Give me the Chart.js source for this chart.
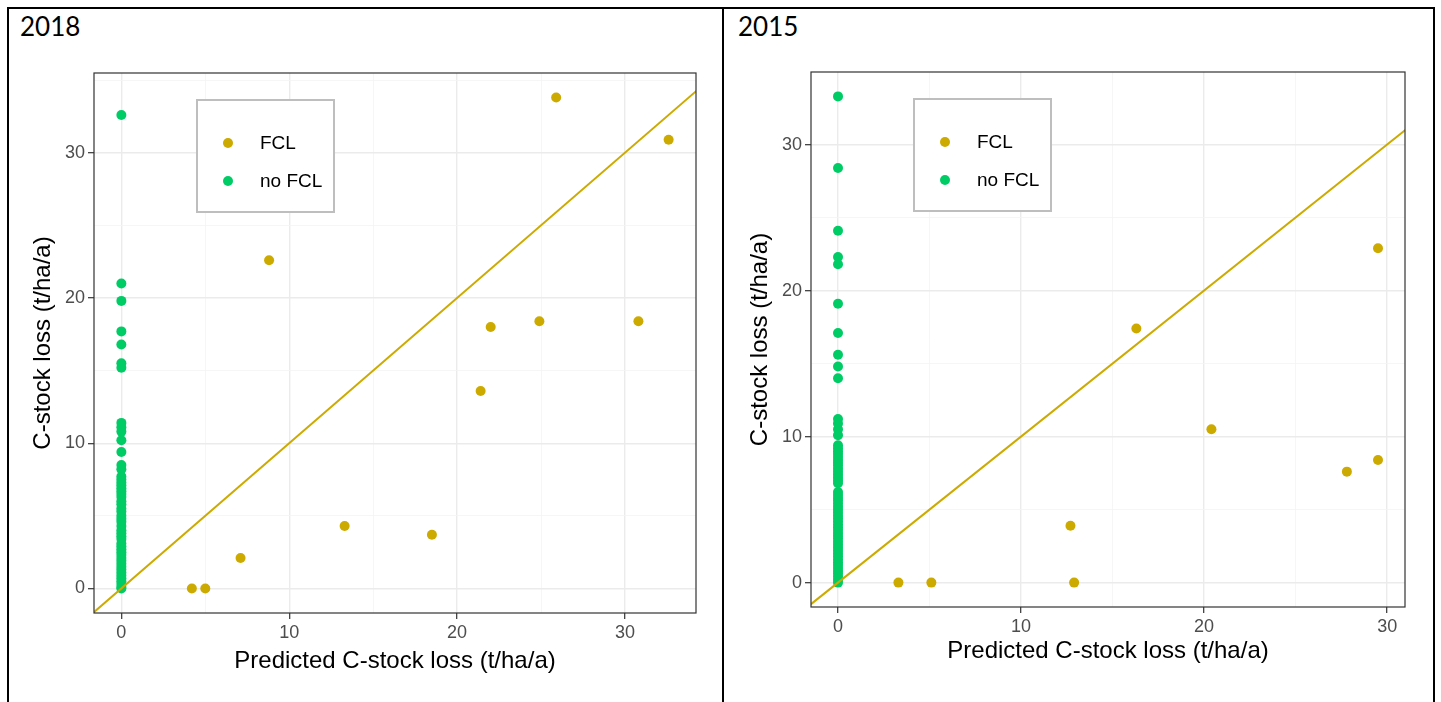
<!DOCTYPE html>
<html>
<head>
<meta charset="utf-8">
<script src="https://cdn.jsdelivr.net/npm/chart.js@4/dist/chart.umd.min.js"></script>
<style>
    body {
        margin: 0;
        width: 1441px;
        height: 702px;
        overflow: hidden;
        position: relative;
        background: #fff;
    }
    .frame {
        position: absolute;
        left: 7px;
        top: 7px;
        width: 1428px;
        height: 730px;
        border: 2px solid #000;
        box-sizing: border-box;
    }
    .divider {
        position: absolute;
        left: 722px;
        top: 7px;
        width: 2px;
        height: 730px;
        background: #000;
    }
    .year {
        position: absolute;
        top: 10px;
        font-family: Lato, "Open Sans", sans-serif;
        font-size: 26px;
        color: #000;
    }
    canvas {
        position: absolute;
    }
</style>
</head>
<body>

<div class="frame"></div>
<div class="divider"></div>
<div class="year" style="left:20px">2018</div>
<div class="year" style="left:738px">2015</div>

<canvas id="chart2018" width="711" height="660" style="left:9px; top:40px"></canvas>
<canvas id="chart2015" width="706" height="660" style="left:725px; top:40px"></canvas>

<script>
// ============================================
// DATOS
// ============================================

const seriesNames = ['FCL', 'no FCL'];

// 2018 - FCL (predicho, observado)
const predFcl2018 = [4.2, 5.0, 7.1, 8.8, 13.3, 18.5, 21.4, 22.0, 24.9, 25.9, 30.8, 32.6];
const lossFcl2018 = [0.0, 0.0, 2.1, 22.6, 4.3, 3.7, 13.6, 18.0, 18.4, 33.8, 18.4, 30.9];

// 2018 - no FCL (predicho = 0)
const lossNoFcl2018 = [
    32.6, 21.0, 19.8, 17.7, 16.8, 15.5, 15.2, 11.4, 11.1, 10.8, 10.2, 9.4, 8.5, 8.2,
    7.7, 7.5, 7.3, 7.1, 6.9, 6.7, 6.5, 6.3, 6.0, 5.8, 5.5, 5.3, 5.0, 4.8, 4.6, 4.3,
    4.0, 3.8, 3.6, 3.4, 3.1, 2.9, 2.7, 2.5, 2.3, 2.1, 1.9, 1.7, 1.5, 1.3, 1.1, 0.9,
    0.7, 0.5, 0.3, 0.1, 0.0
];

// 2015 - FCL
const predFcl2015 = [3.3, 5.1, 12.7, 12.9, 16.3, 20.4, 27.8, 29.5, 29.5];
const lossFcl2015 = [0.0, 0.0, 3.9, 0.0, 17.4, 10.5, 7.6, 8.4, 22.9];

// 2015 - no FCL
const lossNoFcl2015 = [
    33.3, 28.4, 24.1, 22.3, 21.8, 19.1, 17.1, 15.6, 14.8, 14.0, 11.2, 10.9, 10.5, 10.1,
    9.4, 9.2, 9.0, 8.8, 8.6, 8.4, 8.2, 8.0, 7.8, 7.6, 7.4, 7.2, 7.0, 6.8,
    6.2, 6.0, 5.8, 5.6, 5.4, 5.2, 5.0, 4.8, 4.6, 4.4, 4.2, 4.0, 3.8, 3.6, 3.4, 3.2,
    3.0, 2.8, 2.6, 2.4, 2.2, 2.0, 1.8, 1.6, 1.4, 1.2, 1.0, 0.8, 0.6, 0.4, 0.2, 0.0
];

const predNoFcl = 0;

// linea 1:1
const identityLine = [-5, 40];

const xTitle = 'Predicted C-stock loss (t/ha/a)';
const yTitle = 'C-stock loss (t/ha/a)';

const colorFcl = '#CCAA00';
const colorNoFcl = '#00CC66';

const fontFamily = '"Liberation Sans", Arial, sans-serif';


// ============================================
// PLUGIN: borde del panel y leyenda interna
// ============================================

const panelPlugin = {

    id: 'panel',

    afterDatasetsDraw(chart, args, opts) {

        const { ctx, chartArea } = chart;

        ctx.save();

        // borde tipo theme_bw
        ctx.strokeStyle = '#333333';
        ctx.lineWidth = 1.2;
        ctx.strokeRect(
            chartArea.left,
            chartArea.top,
            chartArea.right - chartArea.left,
            chartArea.bottom - chartArea.top
        );

        // leyenda
        const bx = chartArea.left + opts.dx;
        const by = chartArea.top + opts.dy;

        ctx.fillStyle = '#ffffff';
        ctx.fillRect(bx, by, 137, 112);
        ctx.strokeStyle = '#BEBEBE';
        ctx.lineWidth = 2;
        ctx.strokeRect(bx, by, 137, 112);

        const items =
            chart.data.datasets
            .filter(d => seriesNames.includes(d.label))
            .sort((a, b) => seriesNames.indexOf(a.label) - seriesNames.indexOf(b.label));

        items.forEach((d, i) => {

            const cy = by + 43 + i * 38;

            ctx.beginPath();
            ctx.fillStyle = d.backgroundColor;
            ctx.arc(bx + 31, cy, 5, 0, Math.PI * 2);
            ctx.fill();

            ctx.fillStyle = '#000000';
            ctx.font = '19px ' + fontFamily;
            ctx.textBaseline = 'middle';
            ctx.fillText(d.label, bx + 63, cy + 1);
        });

        ctx.restore();
    }
};


// ============================================
// EJES
// ============================================

function makeAxis(min, max, title, titlePad, size, isX) {

    return {

        type: 'linear',

        min,

        max,

        border: { display: false },

        grid: {
            color: c => (c.tick && c.tick.value % 10 === 0) ? '#EBEBEB' : '#F4F4F4',
            lineWidth: c => (c.tick && c.tick.value % 10 === 0) ? 1.4 : 0.8,
            tickColor: c => (c.tick && c.tick.value % 10 === 0) ? '#333333' : 'rgba(0,0,0,0)',
            tickLength: 6,
            tickWidth: 1.2
        },

        ticks: {
            stepSize: 5,
            includeBounds: false,
            autoSkip: false,
            maxRotation: 0,
            padding: 3,
            color: '#4D4D4D',
            font: { family: fontFamily, size: 18 },
            callback: v => (v % 10 === 0) ? v : ''
        },

        title: {
            display: true,
            text: title,
            color: '#000000',
            font: { family: fontFamily, size: 24 },
            padding: titlePad
        },

        afterFit(scale) {
            if (isX) {
                scale.height = size;
            } else {
                scale.width = size;
            }
        }
    };
}


// ============================================
// GRAFICA
// ============================================

function createPanel(canvasId, predFcl, lossFcl, lossNoFcl, ranges, layout) {

    const ctx =
        document
        .getElementById(canvasId)
        .getContext('2d');

    const fclPoints =
        predFcl.map((p, i) => ({ x: p, y: lossFcl[i] }));

    const noFclPoints =
        lossNoFcl.map(v => ({ x: predNoFcl, y: v }));

    const linePoints =
        identityLine.map(v => ({ x: v, y: v }));

    return new Chart(ctx, {

        type: 'scatter',

        data: {

            datasets: [

                {
                    type: 'line',
                    label: '1:1',
                    data: linePoints,
                    borderColor: colorFcl,
                    borderWidth: 2,
                    pointRadius: 0,
                    fill: false,
                    order: 0
                },

                {
                    label: seriesNames[1],
                    data: noFclPoints,
                    backgroundColor: colorNoFcl,
                    borderWidth: 0,
                    pointRadius: 5,
                    order: 1
                },

                {
                    label: seriesNames[0],
                    data: fclPoints,
                    backgroundColor: colorFcl,
                    borderWidth: 0,
                    pointRadius: 5,
                    order: 2
                }
            ]
        },

        options: {

            responsive: false,

            animation: false,

            layout: {
                padding: { top: layout.top, right: layout.right, left: 0, bottom: 0 }
            },

            plugins: {
                legend: { display: false },
                tooltip: { enabled: false },
                panel: { dx: 103, dy: 27 }
            },

            scales: {

                x: makeAxis(ranges.xMin, ranges.xMax, xTitle,
                    { top: 0, bottom: layout.xTitlePad }, layout.xAxisH, true),

                y: makeAxis(ranges.yMin, ranges.yMax, yTitle,
                    { top: layout.yTitlePad, bottom: 0 }, layout.yAxisW, false)
            }
        },

        plugins: [panelPlugin]
    });
}


createPanel(
    'chart2018',
    predFcl2018, lossFcl2018, lossNoFcl2018,
    { xMin: -1.63, xMax: 34.23, yMin: -1.69, yMax: 35.49 },
    { top: 33, right: 24, xAxisH: 87, yAxisW: 85, xTitlePad: 24, yTitlePad: 20 }
);

createPanel(
    'chart2015',
    predFcl2015, lossFcl2015, lossNoFcl2015,
    { xMin: -1.475, xMax: 30.975, yMin: -1.67, yMax: 34.97 },
    { top: 32, right: 26, xAxisH: 93, yAxisW: 86, xTitlePad: 34, yTitlePad: 21 }
);
</script>
</body>
</html>
